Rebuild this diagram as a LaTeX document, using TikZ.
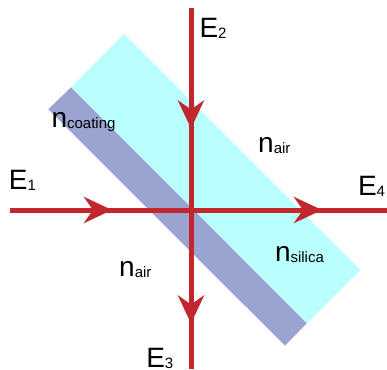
\documentclass[tikz,border=0pt]{standalone}
\usepackage{fontspec}
\setmainfont{Liberation Sans}
\usetikzlibrary{arrows.meta}
\definecolor{rayred}{HTML}{C1272D}
\definecolor{silica}{HTML}{B9FFFF}
\definecolor{coat}{HTML}{9BA3D0}
\newcommand{\mainsz}{\fontsize{28}{30}\selectfont}
\newcommand{\subsz}{\fontsize{15}{17}\selectfont}
\newcommand{\lbl}[2]{{\mainsz #1}\raisebox{-1pt}{\subsz #2}}
\tikzset{
  ray/.style={draw=rayred, line width=5pt},
  rayhead/.style={draw=rayred, line width=5pt, -{Stealth[length=28pt, width=26pt, inset=9pt]}},
  txt/.style={anchor=base west, inner sep=0pt, outer sep=0pt, text=black}
}
\begin{document}
\begin{tikzpicture}[x=1pt,y=-1pt]
\useasboundingbox (0,0) rectangle (387,369);
% slab
\fill[silica] (71,87.3) -- (124,34) -- (360.3,270) -- (306.7,323.3) -- cycle;
\fill[coat] (48.3,109.3) -- (71,87.3) -- (306.7,323.3) -- (285,345.7) -- cycle;
% ray end points
\coordinate (e1) at (10,210);
\coordinate (e4) at (387,210);
\coordinate (e2) at (191,8);
\coordinate (e3) at (191,369);
\coordinate (c) at (191,210);
% rays
\draw[ray] (e1) -- (e4);
\draw[ray] (e2) -- (e3);
% arrow heads
\coordinate (t1) at (112,210);
\coordinate (t4) at (322,210);
\coordinate (t2) at (191,128.5);
\coordinate (t3) at (191,323.5);
\draw[rayhead] (e1) -- (t1);
\draw[rayhead] (c) -- (t4);
\draw[rayhead] (e2) -- (t2);
\draw[rayhead] (c) -- (t3);
% labels
\node[txt] (E1) at (9,189.3) {\lbl{E}{1}};
\node[txt] (E2) at (199.5,37.7) {\lbl{E}{2}};
\node[txt] (E4) at (358,195) {\lbl{E}{4}};
\node[txt] (E3) at (146.3,367) {\lbl{E}{3}};
\node[txt] (nc) at (51.5,127.7) {\lbl{n}{coating}};
\node[txt] (na1) at (258.2,152.5) {\lbl{n}{air}};
\node[txt] (ns) at (275,261.7) {\lbl{n}{silica}};
\node[txt] (na2) at (119.2,276.7) {\lbl{n}{air}};
\end{tikzpicture}
\end{document}
